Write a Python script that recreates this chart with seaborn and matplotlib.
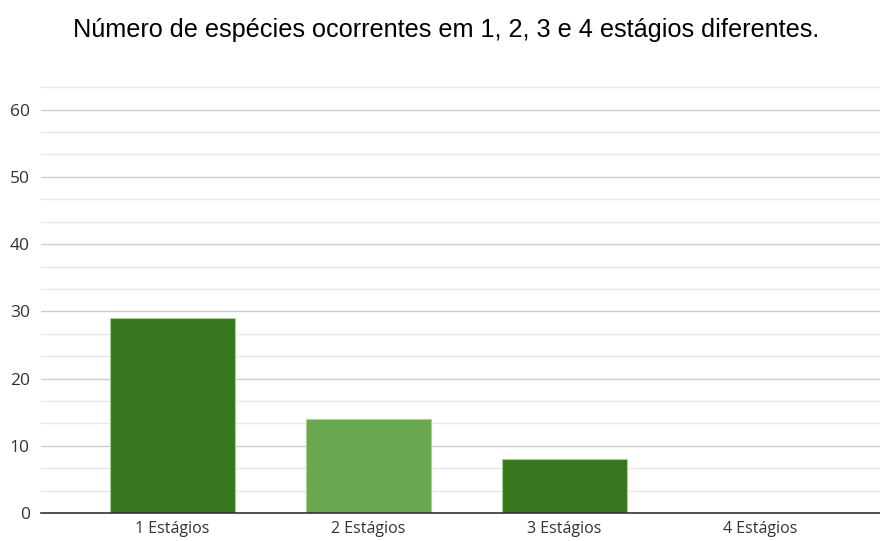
import matplotlib
matplotlib.use("Agg")
import matplotlib.pyplot as plt
import seaborn as sns
import pandas as pd
import numpy as np

categories = ["1 Estágios", "2 Estágios", "3 Estágios", "4 Estágios"]
counts = [29, 14, 8, 0]
bar_colors = ["#38761d", "#6aa84f", "#38761d", "#6aa84f"]
y_ticks = [0, 10, 20, 30, 40, 50, 60]

sns.set_theme(style="white")
plt.rcParams["font.family"] = ["Open Sans", "DejaVu Sans"]

df = pd.DataFrame({"categoria": categories, "especies": counts})

fig = plt.figure(figsize=(8.8, 5.41), dpi=100)
ax = fig.add_axes([0.0466, 0.0518, 0.9534, 0.789])

sns.barplot(data=df, x="categoria", y="especies", hue="categoria",
            palette=bar_colors, saturation=1, legend=False, width=0.64, ax=ax,
            edgecolor="#a9d08e", linewidth=0.8, zorder=3)

ax.set_ylim(0, 63.5)
ax.set_xlim(-0.67, 3.61)
ax.set_yticks(y_ticks)
minor = [v for v in np.arange(0, 64, 10 / 3) if round(v, 3) % 10 != 0]
ax.set_yticks(minor, minor=True)
ax.grid(axis="y", which="major", color="#cccccc", linewidth=1.0, zorder=0)
ax.grid(axis="y", which="minor", color="#e8e8e8", linewidth=1.0, zorder=0)
ax.grid(axis="x", visible=False)
ax.set_axisbelow(True)

for s in ["left", "right", "top"]:
    ax.spines[s].set_visible(False)
ax.spines["bottom"].set_color("#333333")
ax.spines["bottom"].set_linewidth(1.2)
ax.spines["bottom"].set_zorder(4)

ax.tick_params(axis="y", which="both", length=0, pad=8, labelsize=12.5, labelcolor="#333333")
ax.tick_params(axis="x", length=0, pad=6, labelsize=11.5, labelcolor="#333333")
ax.set_xlabel("")
ax.set_ylabel("")

fig.text(0.507, 0.945, "Número de espécies ocorrentes em 1, 2, 3 e 4 estágios diferentes.",
         ha="center", va="center", fontsize=18.2, family=["Liberation Sans", "DejaVu Sans"],
         color="#000000")

fig.savefig("out.png", dpi=100)
